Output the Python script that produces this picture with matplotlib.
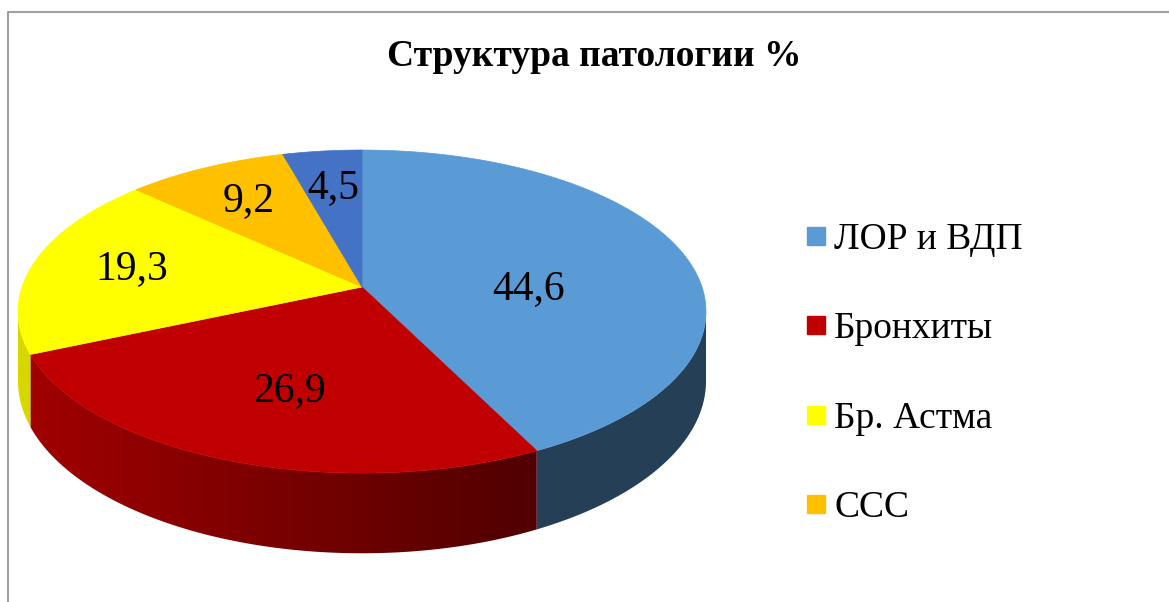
import numpy as np
import matplotlib
matplotlib.use('Agg')
import matplotlib.pyplot as plt
from matplotlib.patches import Polygon, Rectangle
from matplotlib.colors import to_rgb

# data
categories = ['ЛОР и ВДП', 'Бронхиты', 'Бр. Астма', 'ССС', '']
values = [44.6, 26.9, 19.3, 9.2, 4.5]
labels = ['44,6', '26,9', '19,3', '9,2', '4,5']
colors = ['#5B9BD5', '#C00000', '#FFFF00', '#FFC000', '#4472C4']
legend_n = 4   # only four entries fit in the legend box

# 3d pie geometry (pixel units, y down)
CX, CY = 362, 287     # projected centre of the top face
A, B = 340, 157.8     # horizontal / depth radius
K = 0.152             # perspective
DEPTH = 68            # thickness

plt.rcParams['font.family'] = ['Liberation Serif', 'DejaVu Serif']

def proj(t, rho=1.0, depth=0.0):
    u = rho * np.sin(t)
    v = rho * np.cos(t)
    w = 1 + K * v
    return CX + A * u / w, CY - B * v / w + depth / w

def shade(x):
    f = 0.83 - 0.41 * (x - 40) / 490.
    return np.clip(f, 0.41, 0.9)

fig = plt.figure(figsize=(11.69, 6.02), dpi=100)
ax = fig.add_axes([0, 0, 1, 1])

# chart area border (cropped on the right / bottom)
ax.plot([8, 8, 1169], [602, 12, 12], color='#a0a0a0', lw=1.5)

frac = np.array(values) / np.sum(values)
edges = np.concatenate([[0], np.cumsum(frac)]) * 2 * np.pi

# visible part of the side: between the two silhouette angles
t_sil = np.arccos(-K)

# side walls: gradient image clipped to each slice's wall
gx_img = np.linspace(0, 720, 721)
for i in range(len(values)):
    lo = max(edges[i], t_sil)
    hi = min(edges[i + 1], 2 * np.pi - t_sil)
    if hi <= lo:
        continue
    ts = np.linspace(lo, hi, 200)
    xt, yt = proj(ts)
    xb, yb = proj(ts[::-1], depth=DEPTH)
    wall = Polygon(list(zip(xt, yt)) + list(zip(xb, yb)), closed=True,
                   fc='none', ec='none')
    ax.add_patch(wall)
    img = np.array(to_rgb(colors[i]))[None, None, :] * shade(gx_img)[None, :, None]
    im = ax.imshow(img, extent=[0, 720, 570, 280], aspect='auto',
                   interpolation='bilinear', zorder=1)
    im.set_clip_path(wall)

# top face
for i in range(len(values)):
    ts = np.linspace(edges[i], edges[i + 1], 200)
    xs, ys = proj(ts)
    pts = [(CX, CY)] + list(zip(xs, ys))
    ax.add_patch(Polygon(pts, closed=True, fc=colors[i], ec=colors[i],
                         lw=0.5, zorder=2))
    if frac[i] < 0.25:
        # small slices: label at 70% radius on the mid angle
        lx, ly = proj((edges[i] + edges[i + 1]) / 2, rho=0.7)
    else:
        # large slices: centroid of the visible face
        P = np.array(pts)
        x, y = P[:, 0], P[:, 1]
        xn, yn = np.roll(x, -1), np.roll(y, -1)
        cr = x * yn - xn * y
        ar = cr.sum() / 2
        lx = ((x + xn) * cr).sum() / (6 * ar)
        ly = ((y + yn) * cr).sum() / (6 * ar)
    ax.text(lx, ly, labels[i], fontsize=30, ha='center', va='center',
            color='black', zorder=3)

ax.text(594, 57, 'Структура патологии %', fontsize=27, fontweight='bold',
        ha='center', va='center')

# legend
for i in range(legend_n):
    y = 227 + 89.3 * i
    ax.add_patch(Rectangle((807, y), 18, 18, color=colors[i]))
    ax.text(834, y + 22, categories[i], fontsize=27, ha='left', va='baseline')

ax.set_xlim(0, 1169)
ax.set_ylim(602, 0)
ax.axis('off')
fig.savefig('out.png', dpi=100)
